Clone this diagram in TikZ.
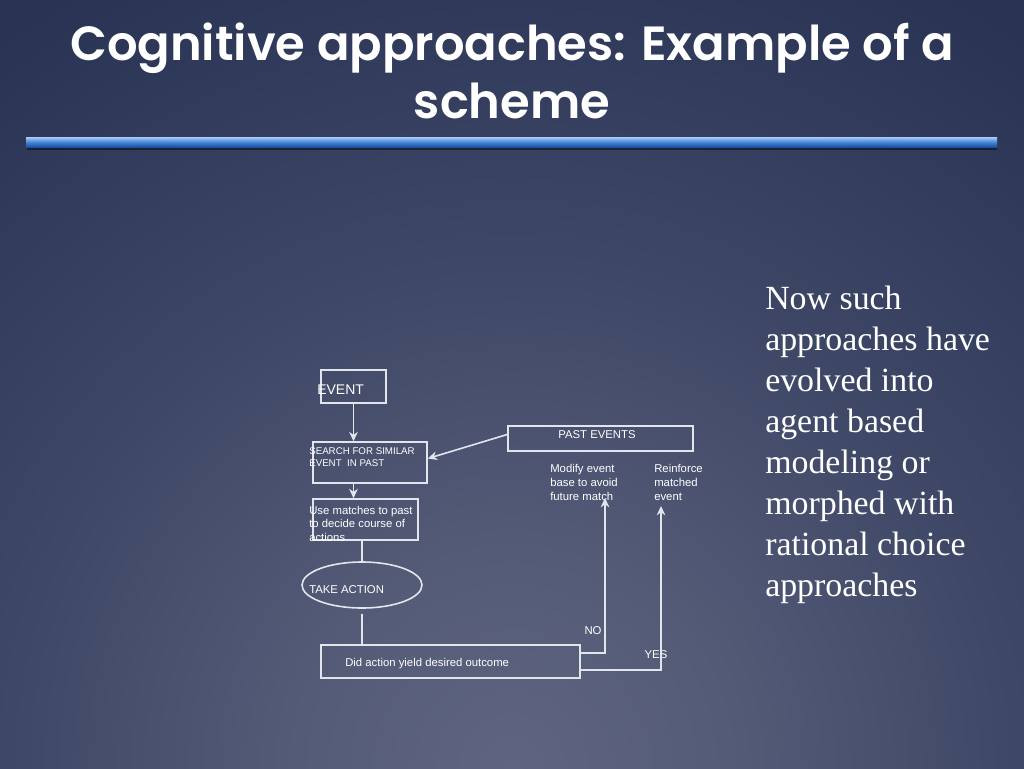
\documentclass[tikz,border=0pt]{standalone}
\usepackage{fontspec}
\setmainfont{Liberation Serif}
\setsansfont{Liberation Sans}
\newfontfamily\titlefont{Poppins SemiBold}
\usetikzlibrary{shapes.geometric,arrows.meta,calc}
\definecolor{bg0}{RGB}{95,101,128}
\definecolor{bg1}{RGB}{84,91,119}
\definecolor{bg2}{RGB}{62,71,102}
\definecolor{bg3}{RGB}{42,52,85}
\definecolor{bg4}{RGB}{30,40,72}
\definecolor{bg5}{RGB}{27,36,67}
\definecolor{ln}{RGB}{226,229,236}
\definecolor{barA}{RGB}{170,205,245}
\definecolor{barB}{RGB}{70,135,215}
\definecolor{barC}{RGB}{25,80,160}
\pgfdeclareradialshading{bgshade}{\pgfpoint{0bp}{0bp}}{color(0bp)=(bg0); color(6bp)=(bg1); color(14bp)=(bg2); color(24bp)=(bg3); color(34bp)=(bg4); color(50bp)=(bg5)}
\tikzset{
  box/.style={draw=ln, line width=1.2pt, rectangle, inner sep=0pt},
  lbl/.style={text=white, inner sep=0pt, font=\sffamily\fontsize{8.5pt}{10.5pt}\selectfont, align=left},
  arr/.style={draw=ln, line width=1.2pt, -{Stealth[length=7pt,width=6.5pt]}},
  lin/.style={draw=ln, line width=1.2pt},
}
\begin{document}
\begin{tikzpicture}[x=0.75pt,y=-0.75pt]
\useasboundingbox (0,0) rectangle (1024,768);
\fill[bg5] (0,0) rectangle (1024,768);
\begin{scope}
\clip (0,0) rectangle (1024,768);
\shade[shading=bgshade] (-388,-132) rectangle (1412,1668);
\end{scope}
% title
\node[text=white, inner sep=0pt, anchor=base, font=\titlefont\fontsize{36pt}{45pt}\selectfont] (title1) at (512,60) {Cognitive approaches: Example of a};
\node[text=white, inner sep=0pt, anchor=base, font=\titlefont\fontsize{36pt}{45pt}\selectfont] (title2) at (512,118) {scheme};
% bar
\fill[black, opacity=0.45] (27,146) rectangle (997,150);
\shade[top color=barA, bottom color=barC, middle color=barB] (26,137) rectangle (997,147);
% body text
\node[text=white, inner sep=0pt, anchor=north west, align=left, font=\rmfamily\fontsize{25.4pt}{30.75pt}\selectfont] (body) at (765,286) {Now such\\approaches have\\evolved into\\agent based\\modeling or\\morphed with\\rational choice\\approaches};
% boxes
\node[box, minimum width={65*0.75pt}, minimum height={33*0.75pt}] (event) at (353.5,386.5) {};
\node[box, minimum width={114*0.75pt}, minimum height={41*0.75pt}] (search) at (370,462.5) {};
\node[box, minimum width={185*0.75pt}, minimum height={25*0.75pt}] (past) at (600.5,438.5) {};
\node[box, minimum width={105*0.75pt}, minimum height={41*0.75pt}] (use) at (365.5,519.5) {};
\node[draw=ln, line width=1.2pt, ellipse, inner sep=0pt, minimum width={120*0.75pt}, minimum height={46*0.75pt}] (act) at (362,585) {};
\node[box, minimum width={259*0.75pt}, minimum height={33*0.75pt}] (did) at (450.5,661.5) {};
% texts
\node[lbl, anchor=west, font=\sffamily\fontsize{10.5pt}{12pt}\selectfont] (eventt) at (317,390) {EVENT};
\node[lbl, anchor=north west, font=\sffamily\fontsize{7.3pt}{9pt}\selectfont] (searcht) at (309,447.5) {SEARCH FOR SIMILAR\\EVENT\ \ IN PAST};
\node[lbl, anchor=center] (pastt) at (597,435) {PAST EVENTS};
\node[lbl, anchor=north west, font=\sffamily\fontsize{8.5pt}{10.1pt}\selectfont] (uset) at (309,506) {Use matches to past\\to decide course of\\actions};
\node[lbl, anchor=west] (actt) at (309,590) {TAKE ACTION};
\node[lbl, anchor=west] (didt) at (345,664) {Did action yield desired outcome};
\node[lbl, anchor=north west] (modt) at (550,464) {Modify event\\base to avoid\\future match};
\node[lbl, anchor=north west] (reit) at (654,464) {Reinforce\\matched\\event};
\node[lbl, anchor=center] (not) at (593,631) {NO};
\node[lbl, anchor=center] (yest) at (656,655) {YES};
\coordinate (noend) at (605,498);
\coordinate (yesend) at (661,506);
% connectors
\draw[arr] (event.south) -- (event.south |- search.north);
\draw[arr] ($(past.west)+(0,-4)$) -- ($(search.east)+(0,-4)$);
\draw[arr] (search.south -| event.south) -- (use.north -| event.south);
\draw[lin] (use.south -| act.north) -- (act.north);
\draw[lin] ($(act.south)+(0,5)$) -- (act.south |- did.north);
\draw[arr] ($(did.east)+(0,-8.5)$) -| (noend);
\draw[arr] ($(did.east)+(0,8.5)$) -| (yesend);
\end{tikzpicture}
\end{document}
